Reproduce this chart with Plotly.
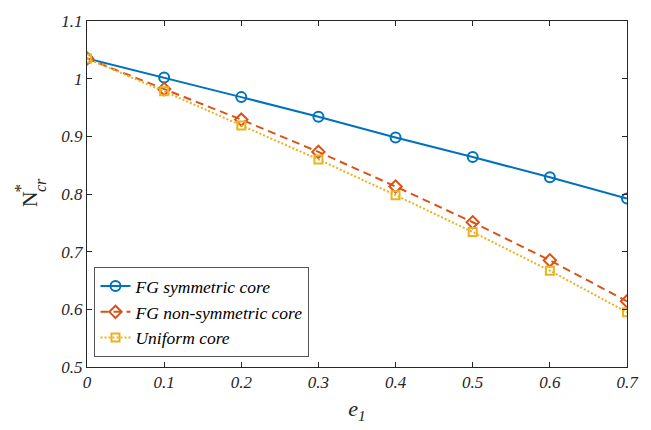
import plotly.graph_objects as go

e1 = [0, 0.1, 0.2, 0.3, 0.4, 0.5, 0.6, 0.7]
fg_sym = [1.035, 1.002, 0.968, 0.934, 0.898, 0.864, 0.829, 0.792]
fg_nonsym = [1.035, 0.982, 0.929, 0.873, 0.813, 0.751, 0.685, 0.614]
uniform = [1.035, 0.978, 0.919, 0.860, 0.798, 0.734, 0.667, 0.595]
names = ["FG symmetric core", "FG non-symmetric core", "Uniform core"]
xticks = [0, 0.1, 0.2, 0.3, 0.4, 0.5, 0.6, 0.7]
yticks = [0.5, 0.6, 0.7, 0.8, 0.9, 1.0, 1.1]
yticklabels = ["0.5", "0.6", "0.7", "0.8", "0.9", "1", "1.1"]

FONT = "Liberation Serif, serif"
AX = "#262626"

fig = go.Figure()
fig.add_trace(go.Scatter(
    x=e1, y=fg_sym, name=names[0], mode="lines+markers",
    line=dict(color="#0072BD", width=2),
    marker=dict(symbol="circle-open", size=10, color="#0072BD", line=dict(width=2))))
fig.add_trace(go.Scatter(
    x=e1, y=fg_nonsym, name=names[1], mode="lines+markers",
    line=dict(color="#D95319", width=2, dash="8px,5px"),
    marker=dict(symbol="diamond-open", size=9.5, color="#D95319", line=dict(width=2))))
fig.add_trace(go.Scatter(
    x=e1, y=uniform, name=names[2], mode="lines+markers",
    line=dict(color="#EDB120", width=2, dash="2px,2px"),
    marker=dict(symbol="square-open", size=8, color="#EDB120", line=dict(width=2))))

L, R, T, B = 86.5, 627.5, 12.5, 367.0
W, H = R - L, B - T

def px(x):
    return (x - L) / W

def py(y):
    return (B - y) / H

fig.update_layout(
    width=651, height=430,
    margin=dict(l=86.5, r=651 - 627.5, t=12.5, b=430 - 367),
    paper_bgcolor="white", plot_bgcolor="white",
    font=dict(family=FONT, size=16, color=AX),
    showlegend=True,
    legend=dict(
        x=px(94), y=py(357), xanchor="left", yanchor="bottom",
        bgcolor="white", bordercolor="#555555", borderwidth=1,
        font=dict(family=FONT, size=17.5, color="#000000", style="italic"),
        itemwidth=30, tracegroupgap=0,
    ),
    xaxis=dict(
        range=[0, 0.7], tickvals=xticks, ticktext=["<i>%g</i>" % v for v in xticks],
        ticks="inside", ticklen=5, tickcolor=AX, showline=True, linecolor=AX,
        linewidth=1, mirror="ticks", showgrid=False, zeroline=False,
        tickfont=dict(family=FONT, size=17, color=AX, style="italic"),
        title=dict(text="<i>e</i><sub><i>1</i></sub>", font=dict(family=FONT, size=22, color=AX), standoff=9),
    ),
    yaxis=dict(
        range=[0.5, 1.1], tickvals=yticks, ticktext=["<i>%s</i>" % t for t in yticklabels],
        ticks="inside", ticklen=5, tickcolor=AX, showline=True, linecolor=AX,
        linewidth=1, mirror="ticks", showgrid=False, zeroline=False,
        tickfont=dict(family=FONT, size=17, color=AX, style="italic"),
    ),
)

fig.add_annotation(text="N", xref="paper", yref="paper", x=px(29), y=py(195.5),
                   xanchor="center", yanchor="middle",
                   showarrow=False, textangle=-90, font=dict(family=FONT, size=22, color=AX))
fig.add_annotation(text="*", xref="paper", yref="paper", x=px(20), y=py(183.5),
                   xanchor="center", yanchor="middle",
                   showarrow=False, textangle=-90, font=dict(family=FONT, size=17, color=AX))
fig.add_annotation(text="<i>cr</i>", xref="paper", yref="paper", x=px(40.5), y=py(180.5),
                   xanchor="center", yanchor="middle",
                   showarrow=False, textangle=-90, font=dict(family=FONT, size=16, color=AX))

fig.write_html("out.html")
